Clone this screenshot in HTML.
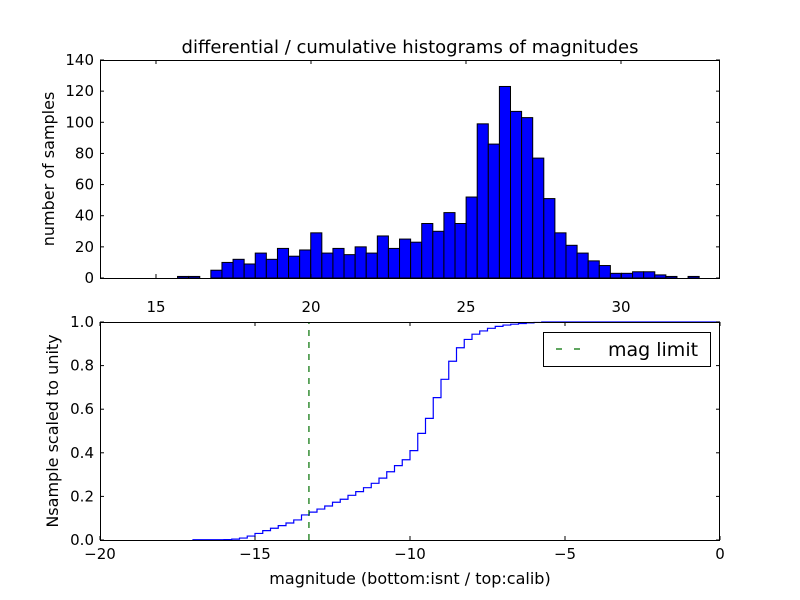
<!DOCTYPE html>
<html><head><meta charset="utf-8"><style>
html,body{margin:0;padding:0;background:#fff;width:800px;height:600px;overflow:hidden}
svg text{font-family:"DejaVu Sans","Liberation Sans",sans-serif;fill:#000}
</style></head><body>
<svg id="chart" width="800" height="600" viewBox="0 0 800 600" xmlns="http://www.w3.org/2000/svg">
<defs><clipPath id="botClip"><rect x="100" y="321" width="620" height="220"/></clipPath></defs>
<rect width="800" height="600" fill="#fff"/>
<text x="410" y="53" font-size="18" text-anchor="middle">differential / cumulative histograms of magnitudes</text>
<g id="topAxes"></g>
<g id="botAxes"></g>
<text transform="translate(54,169) rotate(-90)" font-size="16" text-anchor="middle">number of samples</text>
<text transform="translate(58,431) rotate(-90)" font-size="16" text-anchor="middle">Nsample scaled to unity</text>
<text x="410" y="584" font-size="16" text-anchor="middle">magnitude (bottom:isnt / top:calib)</text>
<g>
<rect x="543.5" y="332.5" width="167" height="34" fill="#fff" stroke="#000" stroke-width="1"/>
<line x1="556" y1="349" x2="582" y2="349" stroke="#007000" stroke-width="1.2" stroke-dasharray="6,12"/>
<text x="608" y="356" font-size="19">mag limit</text>
</g>
</svg>
<script>
// top histogram data
const histBinStart = 15.696;
const histBinWidth = 0.358;
const histCounts = [1,1,0,5,10,12,9,16,12,19,14,18,29,16,19,15,20,16,27,19,25,23,35,30,42,35,52,99,86,123,107,103,77,51,29,21,16,11,8,3,3,4,4,2,1,0,1];
const topXTicks = [15,20,25,30];
const topYTicks = [0,20,40,60,80,100,120,140];
// bottom cumulative data
const cumBinStart = -17.0;
const cumBinWidth = 0.25;
const cumValues = [0.001,0.001,0.001,0.001,0.002,0.004,0.009,0.018,0.03,0.043,0.054,0.066,0.078,0.092,0.115,0.128,0.142,0.156,0.173,0.187,0.205,0.222,0.24,0.26,0.284,0.313,0.341,0.368,0.41,0.489,0.558,0.653,0.737,0.82,0.882,0.92,0.944,0.959,0.971,0.98,0.986,0.99,0.993,0.996,0.998,1,1,1,1,1,1,1,1,1,1,1,1,1,1,1,1,1,1,1,1,1,1,1];
const magLimit = -13.26;
const botXTicks = [-20,-15,-10,-5,0];
const botYTicks = [0,0.2,0.4,0.6,0.8,1.0];

const NS='http://www.w3.org/2000/svg';
function mk(tag,attrs,parent){const e=document.createElementNS(NS,tag);for(const k in attrs)e.setAttribute(k,attrs[k]);parent.appendChild(e);return e;}
const L=100,R=720;
const tx=v=>L+(v-13.194)*31;
const ty=v=>278-v*(218/140);
const bx=v=>L+(v+20)*31;
const by=v=>540-v*218;
const topG=document.getElementById('topAxes'), botG=document.getElementById('botAxes');

histCounts.forEach((c,i)=>{
  if(c<=0) return;
  const x0=tx(histBinStart+i*histBinWidth), x1=tx(histBinStart+(i+1)*histBinWidth);
  const r=mk('rect',{x:x0,y:ty(c),width:x1-x0,height:278-ty(c),fill:'#0000ff',stroke:'#000','stroke-width':1},topG);
  
  
});
function frame(g,y0,y1){
  const f=mk('rect',{x:L+0.5,y:y0+0.5,width:R-L-1,height:y1-y0-1,fill:'none',stroke:'#000','stroke-width':1},g);
  
  
}
topXTicks.forEach(v=>{
  const x=tx(v);
  mk('line',{x1:x,y1:278,x2:x,y2:274,stroke:'#000'},topG);
  mk('line',{x1:x,y1:60,x2:x,y2:64,stroke:'#000'},topG);
  const t=mk('text',{x:x,y:312,'font-size':15,'text-anchor':'middle'},topG);
  t.textContent=v;
  
  
});
topYTicks.forEach(v=>{
  const y=ty(v);
  mk('line',{x1:L,y1:y,x2:L+4,y2:y,stroke:'#000'},topG);
  mk('line',{x1:R,y1:y,x2:R-4,y2:y,stroke:'#000'},topG);
  const t=mk('text',{x:L-6,y:y+5,'font-size':15,'text-anchor':'end'},topG);
  t.textContent=v;
  
  
});
frame(topG,60,279);

const series=mk('g',{'clip-path':'url(#botClip)'},botG);
let d='M'+bx(cumBinStart)+','+by(0);
cumValues.forEach((v,i)=>{
  const x0=bx(cumBinStart+i*cumBinWidth), x1=bx(cumBinStart+(i+1)*cumBinWidth);
  d+=' L'+x0+','+by(v)+' L'+x1+','+by(v);
});
d+=' L'+bx(cumBinStart+cumValues.length*cumBinWidth)+','+by(0);
const p=mk('path',{d:d,fill:'none',stroke:'#0000ff','stroke-width':1.2},series);


const ml=mk('line',{x1:bx(magLimit),y1:by(0),x2:bx(magLimit),y2:by(1),stroke:'#007000','stroke-width':1.2,'stroke-dasharray':'6,6'},series);


botXTicks.forEach(v=>{
  const x=bx(v);
  mk('line',{x1:x,y1:540,x2:x,y2:536,stroke:'#000'},botG);
  mk('line',{x1:x,y1:322,x2:x,y2:326,stroke:'#000'},botG);
  const t=mk('text',{x:x,y:559,'font-size':15,'text-anchor':'middle'},botG);
  t.textContent=v===0?'0':'\u2212'+Math.abs(v);
  
  
});
botYTicks.forEach(v=>{
  const y=by(v);
  mk('line',{x1:L,y1:y,x2:L+4,y2:y,stroke:'#000'},botG);
  mk('line',{x1:R,y1:y,x2:R-4,y2:y,stroke:'#000'},botG);
  const t=mk('text',{x:L-6,y:y+5,'font-size':15,'text-anchor':'end'},botG);
  t.textContent=v.toFixed(1);
  
  
});
frame(botG,322,541);
</script>
</body></html>
